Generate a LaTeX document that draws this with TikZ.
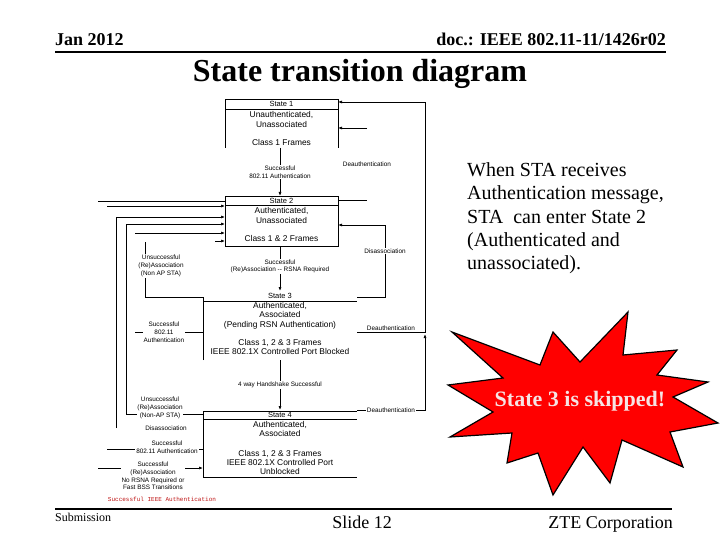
\documentclass[tikz,border=0pt]{standalone}
\usepackage{fontspec}
\setmainfont{Liberation Serif}
\newfontfamily\diagfont{Liberation Sans}
\newfontfamily\garbledfont{Liberation Mono}
\usetikzlibrary{arrows.meta}
\definecolor{skiptext}{RGB}{246,228,228}
\definecolor{darkred}{RGB}{190,20,20}
\begin{document}
\begin{tikzpicture}[x=1pt,y=-1pt,
  stname/.style={font=\diagfont\fontsize{7.5}{8}\selectfont, inner sep=0pt},
  stbody/.style={font=\diagfont\fontsize{8.4}{9.4}\selectfont, align=center, inner sep=0pt},
  lbl/.style={font=\diagfont\fontsize{6.4}{7.8}\selectfont, align=center, inner sep=0.8pt},
  lblw/.style={lbl, fill=white},
  edge/.style={line width=0.7pt},
  arr/.style={edge, -{Latex[length=4pt,width=3pt]}},
  rule/.style={line width=1.8pt}]
\useasboundingbox (0,0) rectangle (720,540);

% header and title
\node[font=\bfseries\fontsize{18}{20}\selectfont, anchor=base west, inner sep=0pt] (date) at (55,46) {Jan 2012};
\node[font=\bfseries\fontsize{18}{20}\selectfont, anchor=base east, inner sep=0pt] (docid) at (666,46) {doc.: IEEE 802.11-11/1426r02};
\draw[rule] (55,52) -- (666,52);
\node[font=\bfseries\fontsize{32}{34}\selectfont, anchor=base, inner sep=0pt] (title) at (360,82) {State transition diagram};

% state boxes
\draw[edge] (225,148) -- (225,99) -- (338,99) -- (338,148);
\draw[edge] (225,109) -- (338,109);
\draw[edge] (225,196) rectangle (338,246);
\draw[edge] (225,205) -- (338,205);
\draw[edge] (203,360) -- (203,297);
\draw[edge] (203,301) -- (357,301);
\draw[edge] (357,411) -- (203,411) -- (203,477) -- (357,477);
\draw[edge] (203,419) -- (357,419);

\node[stname] (s1name) at (281.5,104) {State 1};
\node[stbody] (s1body) at (281.5,119.5) {Unauthenticated,\\Unassociated};
\node[stbody] (s1frames) at (281.5,142) {Class 1 Frames};
\node[stname] (s2name) at (281.5,200.5) {State 2};
\node[stbody] (s2body) at (281.5,215.5) {Authenticated,\\Unassociated};
\node[stbody] (s2frames) at (281.5,238.5) {Class 1 \& 2 Frames};
\node[stname] (s3name) at (280,296) {State 3};
\node[stbody] (s3body) at (280,315.5) {Authenticated,\\Associated\\(Pending RSN Authentication)};
\node[stbody] (s3frames) at (280,347) {Class 1, 2 \& 3 Frames\\IEEE 802.1X Controlled Port Blocked};
\node[stname] (s4name) at (280,415) {State 4};
\node[stbody] (s4body) at (280,429) {Authenticated,\\Associated};
\node[stbody] (s4frames) at (280,462.5) {Class 1, 2 \& 3 Frames\\IEEE 802.1X Controlled Port\\Unblocked};

% connector ends
\coordinate (s1b) at (280,148);
\coordinate (s2t) at (280,196);
\coordinate (s2b) at (280,246);
\coordinate (s3t) at (280,291);
\coordinate (s3b) at (280,360);
\coordinate (s4t) at (280,410);
\coordinate (loopTop) at (425,102);
\coordinate (loopMid) at (425,332);
\coordinate (loopJoin) at (425,334);
\coordinate (loopBot) at (425,410);

% main path
\draw[arr] (s1b) -- node[lblw] (auth12) {Successful\\802.11 Authentication} (s2t);
\draw[arr] (s2b) -- node[lblw, pos=0.45] (assoc23) {Successful\\(Re)Association -- RSNA Required} (s3t);
\draw[arr] (s3b) -- node[lblw] (hs34) {4 way Handshake Successful} (s4t);

% right side
\draw[arr] (357,332) -- node[lbl, above] (deauth31) {Deauthentication} (loopMid) -- (loopTop) -- (338,102);
\draw[arr] (357,410) -- node[lblw] (deauth41) {Deauthentication} (loopBot) -- (loopJoin);
\draw[arr] (367,128) -- (338,128);
\draw[edge] (338,200) -- (367,200);
\node[lbl] (deauth21) at (367,164) {Deauthentication};
\draw[arr] (357,297) -- (385,297) -- node[lblw, pos=0.64] (disassoc32) {Disassociation} (385,225) -- (338,225);

% left side
\draw[edge] (98,201) -- (225,201);
\draw[arr] (107,206) -- (225,206);
\draw[arr] (116,428) -- (116,217) -- (225,217);
\draw[arr] (203,414) -- (126,414) -- (126,224) -- (225,224);
\draw[arr] (135,233) -- (225,233);
\draw[arr] (215,241) -- (225,241);
\draw[edge] (203,297) -- (145,297) -- (145,242);
\node[lblw] (unsucc32) at (161,266) {Unsuccessful\\(Re)Association\\(Non AP STA)};
\draw[edge] (135,332) -- (203,332);
\node[lblw] (auth31) at (164,332) {Successful\\802.11\\Authentication};
\node[lblw] (unsucc42) at (160,408) {Unsuccessful\\(Re)Association\\(Non-AP STA)};
\node[lbl] (disassoc42) at (166,428) {Disassociation};
\draw[edge] (107,449) -- (203,449);
\node[lblw] (auth41) at (167,447) {Successful\\802.11 Authentication};
\draw[arr] (98,468) -- (203,468);
\node[lblw] (reassoc4) at (153,476) {Successful\\(Re)Association\\No RSNA Required or\\Fast BSS Transitions};
\node[font=\garbledfont\fontsize{6}{7}\selectfont, text=darkred, inner sep=0pt] (ieeeauth) at (162,499) {Successful IEEE Authentication};

% explanation
\node[font=\fontsize{20}{23.3}\selectfont, align=left, anchor=north west, inner sep=0pt] (infotext) at (467,162.5)
  {When STA receives\\Authentication message,\\STA\ \ can enter State 2\\(Authenticated and\\unassociated).};

% starburst
\filldraw[fill=red, draw=black, line width=1.2pt] (452,332) -- (540,365) -- (553,332) -- (580,362) -- (628,312)
  -- (623,355) -- (677,350) -- (657,375) -- (708,382) -- (673,397) -- (718,423) -- (670,432) -- (683,467)
  -- (622,440) -- (610,483) -- (583,447) -- (553,495) -- (538,453) -- (507,463) -- (512,433) -- (450,437)
  -- (493,412) -- (448,385) -- (503,378) -- cycle;
\node[font=\bfseries\fontsize{22}{24}\selectfont, text=skiptext, anchor=base, inner sep=0pt] (skipnote) at (580,406) {State 3 is skipped!};

% footer
\draw[rule] (55,509) -- (672,509);
\node[font=\fontsize{12}{14}\selectfont, anchor=base west, inner sep=0pt] (subm) at (55,521) {Submission};
\node[font=\fontsize{18}{20}\selectfont, anchor=base, inner sep=0pt] (slide) at (362,528) {Slide 12};
\node[font=\fontsize{18}{20}\selectfont, anchor=base east, inner sep=0pt] (company) at (673,528) {ZTE Corporation};
\end{tikzpicture}
\end{document}
